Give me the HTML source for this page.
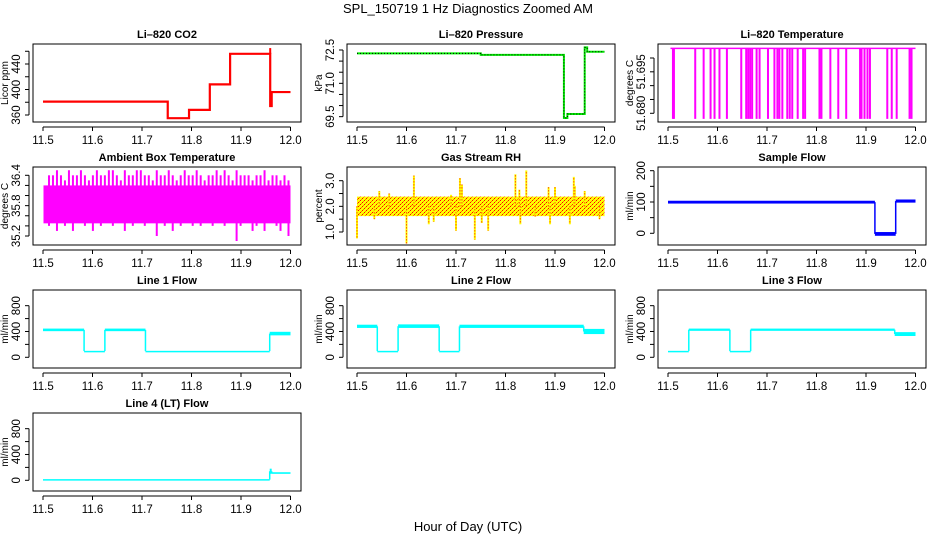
<!DOCTYPE html>
<html><head><meta charset="utf-8"><style>
body{margin:0;background:#fff}
svg{display:block;font-family:"Liberation Sans",Arial,sans-serif}
.t{font-weight:bold;font-size:11px}
.tk{font-size:11.5px}
.yl{font-size:10px}
</style></head><body>
<svg id="c" width="936" height="540" viewBox="0 0 936 540">
<defs><pattern id="rhpat" width="4" height="4" patternUnits="userSpaceOnUse"><rect width="4" height="4" fill="#ffff00"/><rect x="0" y="0" width="1" height="1" fill="#ff0000"/><rect x="2" y="2" width="1" height="1" fill="#ff0000"/><rect x="1" y="3" width="1" height="1" fill="#ff8000"/><rect x="3" y="1" width="1" height="1" fill="#ff8000"/></pattern></defs>
<text x="468" y="13" text-anchor="middle" font-size="13">SPL_150719  1 Hz Diagnostics Zoomed AM</text>
<text x="468" y="531" text-anchor="middle" font-size="13">Hour of Day (UTC)</text>
</svg>
<script>
// ---- data ----
const xTicks=[11.5,11.6,11.7,11.8,11.9,12.0];
const xTickLabels=["11.5","11.6","11.7","11.8","11.9","12.0"];
const co2Times=[11.5,11.752,11.795,11.837,11.878,11.959,11.962,12.0];
const co2Vals=[381,355,368,408,456,374,396];
const presTimes=[11.5,11.75,11.918,11.925,11.96,11.965,12.0];
const presVals=[72.35,72.28,69.44,69.62,72.62,72.42];
const tempTop=51.7035;
const tempLow=51.678;
const tempDrops=[11.51,11.512,11.555,11.572,11.586,11.594,11.604,11.619,11.648,11.658,11.662,11.666,11.670,11.679,11.685,11.702,11.715,11.721,11.725,11.731,11.741,11.746,11.751,11.762,11.773,11.777,11.806,11.81,11.828,11.844,11.86,11.888,11.891,11.897,11.903,11.908,11.943,11.952,11.962,11.988,11.992];
const ambHi=[35.9,36.4,36.4,36.5,36.4,36.3,36.5,36.4,36.4,36.5,36.4,36.3,36.4,36.5,36.4,36.4,36.5,36.5,36.4,36.3,36.5,36.4,36.4,36.5,36.5,36.4,36.4,36.3,36.5,36.4,36.4,36.5,36.4,36.3,36.4,36.5,36.4,36.4,36.5,36.4,36.3,36.4,36.4,36.5,36.4,36.5,36.4,36.3,36.5,36.4,36.4,36.4,36.3,36.4,36.4,36.5,36.3,36.4,36.4,36.3,36.4,36.3];
const ambLo=[35.6,35.4,35.5,35.3,35.5,35.4,35.5,35.3,35.5,35.5,35.4,35.5,35.3,35.5,35.4,35.5,35.5,35.4,35.5,35.5,35.3,35.5,35.4,35.5,35.5,35.4,35.5,35.5,35.2,35.5,35.4,35.5,35.3,35.5,35.4,35.5,35.5,35.4,35.5,35.4,35.5,35.5,35.4,35.5,35.5,35.4,35.5,35.5,35.1,35.4,35.5,35.5,35.3,35.4,35.5,35.3,35.5,35.5,35.4,35.3,35.5,35.2];
const ambCoreLo=35.45, ambCoreHi=36.2;
const rhLo=1.62, rhHi=2.38;
const rhSpikeX=[11.5,11.6,11.615,11.7,11.708,11.712,11.738,11.765,11.82,11.828,11.842,11.887,11.89,11.9,11.938,11.93,11.96,11.545,11.535,11.645,11.655,11.752,11.83,11.86,11.94,11.69,11.565,11.99];
const rhSpikeY=[0.75,0.55,3.2,1.05,3.1,2.85,0.7,1.05,3.25,2.65,3.4,2.75,1.3,2.75,3.15,1.3,2.6,2.6,1.5,1.3,1.4,1.35,1.3,1.6,2.8,2.45,2.5,1.5];
const sampTimes=[11.5,11.918,11.96,12.0];
const sampLo=[95,-8,98];
const sampHi=[104,4,108];
const l1Times=[11.5,11.583,11.625,11.707,11.958,12.0];
const l1Lo=[405,92,405,92,340];
const l1Hi=[445,100,445,100,395];
const l2Times=[11.5,11.541,11.583,11.666,11.707,11.958,12.0];
const l2Lo=[455,92,455,92,455,360];
const l2Hi=[505,100,510,100,505,440];
const l3Times=[11.5,11.542,11.625,11.667,11.958,12.0];
const l3Lo=[92,410,92,410,330];
const l3Hi=[100,445,100,445,390];
const l4Times=[11.5,11.958,11.962,12.0];
const l4Lo=[2,100,100];
const l4Hi=[18,180,125];

// ---- layout ----
const svg=document.getElementById('c');
const NS='http://www.w3.org/2000/svg';
function mk(tag,attrs,parent){const e=document.createElementNS(NS,tag);for(const k in attrs)e.setAttribute(k,attrs[k]);(parent||svg).appendChild(e);return e;}
const colL=[33,347,658], W=268;
function panel(col,row,title,ylab,ymin,ymax,ticks,name){
  const L=colL[col], T=44+row*123, H=78;
  const p={L,T,H,ymin,ymax};
  p.sx=x=>L+10+(x-11.5)/0.5*247.5;
  p.sy=y=>T+H-(y-ymin)/(ymax-ymin)*H;
  const g=mk('g',{});
  
  
  p.g=g;
  const box=mk('rect',{x:L,y:T,width:W,height:H,fill:'none',stroke:'#000','stroke-width':1},g);
  
  
  const tt=mk('text',{x:L+W/2,y:T-6,'text-anchor':'middle',class:'t'},g);tt.textContent=title;
  
  
  const ay=T+H+5;
  const xa=mk('line',{x1:p.sx(xTicks[0]),x2:p.sx(xTicks[xTicks.length-1]),y1:ay,y2:ay,stroke:'#000'},g);
  
  
  xTicks.forEach((v,i)=>{const x=p.sx(v);mk('line',{x1:x,x2:x,y1:ay,y2:ay+4,stroke:'#000'},g);
    const t=mk('text',{x:x,y:ay+17,'text-anchor':'middle',class:'tk'},g);t.textContent=xTickLabels[i];
    
    });
  const ax=L-4;
  const ya=mk('line',{x1:ax,x2:ax,y1:p.sy(ticks[0]),y2:p.sy(ticks[ticks.length-1]),stroke:'#000'},g);
  
  
  ticks.forEach(v=>{const y=p.sy(v);mk('line',{x1:ax-4,x2:ax,y1:y,y2:y,stroke:'#000'},g);});
  const yl=mk('text',{x:0,y:0,'text-anchor':'middle',class:'yl',transform:`translate(${L-25},${T+H/2}) rotate(-90)`},g);yl.textContent=ylab;
  
  
  return p;
}
function panelF(col,row,title,ylab,ymin,ymax,ticks,labs,d,name){
  const p=panel(col,row,title,ylab,ymin,ymax,ticks,name);
  labs.forEach(v=>{const y=p.sy(v);const t=mk('text',{x:0,y:0,'text-anchor':'middle',class:'tk',transform:`translate(${p.L-13},${y}) rotate(-90)`},p.g);t.textContent=v.toFixed(d);
    
    });
  return p;
}
function step(p,times,vals,color,w,extra){
  let d='';
  vals.forEach((v,i)=>{const x0=p.sx(times[i]),x1=p.sx(times[i+1]),y=p.sy(v);d+=(i?'L':'M')+x0+','+y+'L'+x1+','+y;});
  return mk('path',Object.assign({d:d,fill:'none',stroke:color,'stroke-width':w},extra||{}),p.g);
}
function bands(p,times,lo,hi,color,name){
  lo.forEach((v,i)=>{
    const x0=p.sx(times[i]),x1=p.sx(times[i+1]);
    const r=mk('rect',{x:x0,y:p.sy(hi[i]),width:x1-x0,height:Math.max(1.5,p.sy(v)-p.sy(hi[i])),fill:color},p.g);
    
    
    if(i>0){const ya=p.sy((lo[i-1]+hi[i-1])/2),yb=p.sy((v+hi[i])/2);
      mk('line',{x1:x0,x2:x0,y1:ya,y2:yb,stroke:color,'stroke-width':1.5},p.g);}
  });
}
function rng(a,b,s){const r=[];for(let v=a;v<=b+s/1000;v+=s)r.push(+v.toFixed(4));return r;}

const p1=panelF(0,0,'Li–820 CO2','Licor ppm',349,471.4,rng(360,460,20),[360,400,440],0,'co2-panel');
const co2=step(p1,co2Times,co2Vals,'#ff0000',2.2);


mk('line',{x1:p1.sx(co2Times[5]),x2:p1.sx(co2Times[5]),y1:p1.sy(465),y2:p1.sy(co2Vals[4]),stroke:'#ff0000','stroke-width':2},p1.g);

const p2=panelF(1,0,'Li–820 Pressure','kPa',69.26,72.77,rng(69.5,72.5,0.5),[69.5,71.0,72.5],1,'pressure-panel');
const pr=step(p2,presTimes,presVals,'#00ee00',2);


step(p2,presTimes,presVals,'#000',1,{'stroke-dasharray':'1,2'});

const p3=panelF(2,0,'Li–820 Temperature','degrees C',51.67685,51.70506,rng(51.68,51.70,0.005),[51.680,51.695],3,'li820-temperature-panel');
const tl=mk('line',{x1:p3.sx(11.505),x2:p3.sx(12.0),y1:p3.sy(tempTop),y2:p3.sy(tempTop),stroke:'#ff00ff','stroke-width':1.5},p3.g);


tempDrops.forEach(x=>{const l=mk('line',{x1:p3.sx(x),x2:p3.sx(x),y1:p3.sy(tempTop),y2:p3.sy(tempLow),stroke:'#ff00ff','stroke-width':2},p3.g);
  
  });

const p4=panelF(0,1,'Ambient Box Temperature','degrees C',35.022,36.564,rng(35.2,36.4,0.2),[35.2,35.8,36.4],1,'ambient-temperature-panel');
const core=mk('rect',{x:p4.sx(11.501),y:p4.sy(ambCoreHi),width:p4.sx(12)-p4.sx(11.501),height:p4.sy(ambCoreLo)-p4.sy(ambCoreHi),fill:'#ff00ff'},p4.g);


ambHi.forEach((h,i)=>{const x=11.5+(i+0.5)*0.5/ambHi.length;
  const l=mk('line',{x1:p4.sx(x),x2:p4.sx(x),y1:p4.sy(h),y2:p4.sy(ambLo[i]),stroke:'#ff00ff','stroke-width':2},p4.g);
  
  });

const p5=panelF(1,1,'Gas Stream RH','percent',0.493,3.534,rng(1,3,0.5),[1.0,2.0,3.0],1,'rh-panel');
const rb=mk('rect',{x:p5.sx(11.5),y:p5.sy(rhHi),width:p5.sx(12)-p5.sx(11.5),height:p5.sy(rhLo)-p5.sy(rhHi),fill:'url(#rhpat)'},p5.g);


rhSpikeX.forEach((x,i)=>{const y0=p5.sy(2.0),y1=p5.sy(rhSpikeY[i]);
  const l=mk('line',{x1:p5.sx(x),x2:p5.sx(x),y1:y0,y2:y1,stroke:'#ffff00','stroke-width':2},p5.g);
  
  
  mk('line',{x1:p5.sx(x),x2:p5.sx(x),y1:y0,y2:y1,stroke:'#ff0000','stroke-width':1,'stroke-dasharray':'1,2'},p5.g);});

const p6=panelF(2,1,'Sample Flow','ml/min',-37.4,211.8,rng(0,200,50),[0,100,200],0,'sample-flow-panel');
bands(p6,sampTimes,sampLo,sampHi,'#0000ff','sample-flow');

const fT=rng(0,800,200), fL=[0,400,800];
const p7=panelF(0,2,'Line 1 Flow','ml/min',-166,1043,fT,fL,0,'line1-flow-panel');
bands(p7,l1Times,l1Lo,l1Hi,'#00ffff','line1-flow');
const p8=panelF(1,2,'Line 2 Flow','ml/min',-166,1043,fT,fL,0,'line2-flow-panel');
bands(p8,l2Times,l2Lo,l2Hi,'#00ffff','line2-flow');
const p9=panelF(2,2,'Line 3 Flow','ml/min',-166,1043,fT,fL,0,'line3-flow-panel');
bands(p9,l3Times,l3Lo,l3Hi,'#00ffff','line3-flow');
const p10=panelF(0,3,'Line 4 (LT) Flow','ml/min',-166,1043,fT,fL,0,'line4-flow-panel');
bands(p10,l4Times,l4Lo,l4Hi,'#00ffff','line4-flow');
</script>
</body></html>
